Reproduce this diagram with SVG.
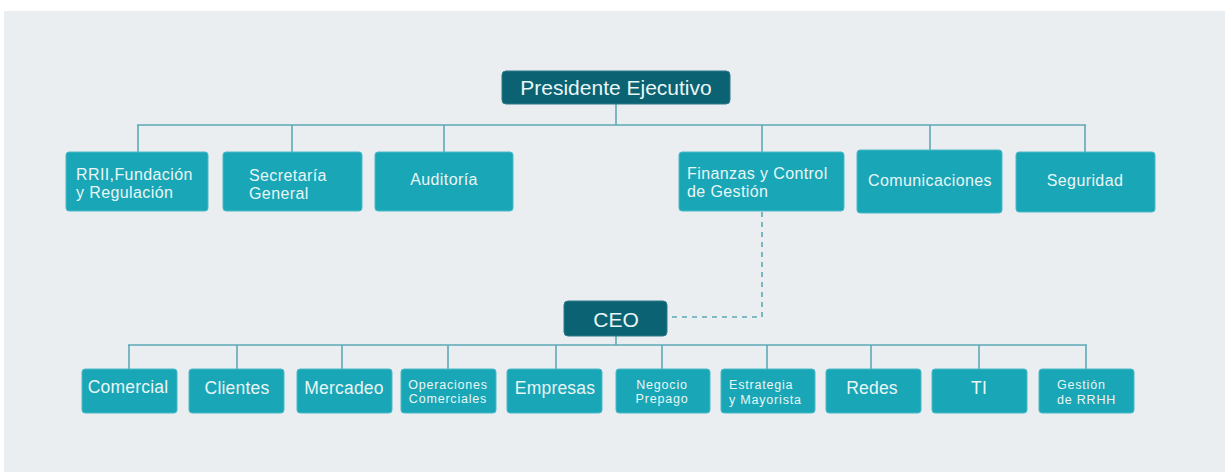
<svg xmlns="http://www.w3.org/2000/svg" width="1225" height="472" viewBox="0 0 1225 472">
  <style>
    .lead { fill: #0b6272; stroke: #2f7b89; stroke-width: 1; }
    .unit { fill: #19a6b6; stroke: #4cbac7; stroke-width: 1; }
    .t { font-family: "Liberation Sans", Arial, sans-serif; fill: #e9f6f7; }
    .t1 { font-size: 21px; }
    .t2 { font-size: 16px; letter-spacing: 0.4px; }
    .t3 { font-size: 17.5px; letter-spacing: 0.2px; }
    .t4 { font-size: 12.5px; letter-spacing: 0.8px; }
    .c { text-anchor: middle; }
    .ln { stroke: #5ea9b4; stroke-width: 1.6; fill: none; }
    .dash { stroke: #5ea9b4; stroke-width: 1.6; fill: none; stroke-dasharray: 5 5; }
  </style>
  <rect x="0" y="0" width="1225" height="472" fill="#ffffff"/>
  <rect x="4" y="11" width="1221" height="461" fill="#ebeef1"/>

  <g id="connectors">
    <!-- Presidente Ejecutivo branch -->
    <line class="ln" x1="616" y1="104" x2="616" y2="125"/>
    <line class="ln" x1="137" y1="125" x2="1086" y2="125"/>
    <line class="ln" x1="138" y1="125" x2="138" y2="152"/>
    <line class="ln" x1="292" y1="125" x2="292" y2="152"/>
    <line class="ln" x1="444" y1="125" x2="444" y2="152"/>
    <line class="ln" x1="762" y1="125" x2="762" y2="152"/>
    <line class="ln" x1="930" y1="125" x2="930" y2="150"/>
    <line class="ln" x1="1085" y1="125" x2="1085" y2="152"/>
    <!-- dotted reporting line Finanzas to CEO -->
    <polyline class="dash" points="762,212 762,317 668,317"/>
    <!-- CEO branch -->
    <line class="ln" x1="616" y1="336" x2="616" y2="345"/>
    <line class="ln" x1="128" y1="345" x2="1087" y2="345"/>
    <line class="ln" x1="129" y1="345" x2="129" y2="369"/>
    <line class="ln" x1="237" y1="345" x2="237" y2="369"/>
    <line class="ln" x1="342" y1="345" x2="342" y2="369"/>
    <line class="ln" x1="448" y1="345" x2="448" y2="369"/>
    <line class="ln" x1="556" y1="345" x2="556" y2="369"/>
    <line class="ln" x1="662" y1="345" x2="662" y2="369"/>
    <line class="ln" x1="767" y1="345" x2="767" y2="369"/>
    <line class="ln" x1="871" y1="345" x2="871" y2="369"/>
    <line class="ln" x1="979" y1="345" x2="979" y2="369"/>
    <line class="ln" x1="1086" y1="345" x2="1086" y2="369"/>
  </g>

  <g id="presidente">
    <rect class="lead" x="502" y="71" width="228" height="33" rx="4"/>
    <text class="t t1 c" x="616" y="95">Presidente Ejecutivo</text>
  </g>

  <g id="rrii">
    <rect class="unit" x="66" y="152" width="142" height="59" rx="3"/>
    <text class="t t2" x="76" y="180">RRII,Fundación</text>
    <text class="t t2" x="76" y="198">y Regulación</text>
  </g>
  <g id="secretaria">
    <rect class="unit" x="223" y="152" width="139" height="59" rx="3"/>
    <text class="t t2" x="249" y="181">Secretaría</text>
    <text class="t t2" x="249" y="199">General</text>
  </g>
  <g id="auditoria">
    <rect class="unit" x="375" y="152" width="138" height="59" rx="3"/>
    <text class="t t2 c" x="444" y="185">Auditoría</text>
  </g>
  <g id="finanzas">
    <rect class="unit" x="679" y="152" width="165" height="59" rx="3"/>
    <text class="t t2" x="687" y="179">Finanzas y Control</text>
    <text class="t t2" x="687" y="197">de Gestión</text>
  </g>
  <g id="comunicaciones">
    <rect class="unit" x="857" y="150" width="145" height="63" rx="3"/>
    <text class="t t2 c" x="930" y="186">Comunicaciones</text>
  </g>
  <g id="seguridad">
    <rect class="unit" x="1016" y="152" width="139" height="60" rx="3"/>
    <text class="t t2 c" x="1085" y="186">Seguridad</text>
  </g>

  <g id="ceo">
    <rect class="lead" x="564" y="301" width="103" height="35" rx="4"/>
    <text class="t t1 c" x="616" y="327">CEO</text>
  </g>

  <g id="comercial">
    <rect class="unit" x="82" y="369" width="95" height="44" rx="3"/>
    <text class="t t3 c" x="128" y="393">Comercial</text>
  </g>
  <g id="clientes">
    <rect class="unit" x="189" y="369" width="95" height="44" rx="3"/>
    <text class="t t3 c" x="237" y="394">Clientes</text>
  </g>
  <g id="mercadeo">
    <rect class="unit" x="297" y="369" width="95" height="44" rx="3"/>
    <text class="t t3 c" x="344" y="394">Mercadeo</text>
  </g>
  <g id="operaciones">
    <rect class="unit" x="401" y="369" width="95" height="44" rx="3"/>
    <text class="t t4 c" x="448" y="389">Operaciones</text>
    <text class="t t4 c" x="448" y="403">Comerciales</text>
  </g>
  <g id="empresas">
    <rect class="unit" x="507" y="369" width="95" height="44" rx="3"/>
    <text class="t t3 c" x="555" y="394">Empresas</text>
  </g>
  <g id="prepago">
    <rect class="unit" x="616" y="369" width="94" height="44" rx="3"/>
    <text class="t t4 c" x="662" y="389">Negocio</text>
    <text class="t t4 c" x="662" y="403">Prepago</text>
  </g>
  <g id="estrategia">
    <rect class="unit" x="721" y="369" width="94" height="44" rx="3"/>
    <text class="t t4" x="729" y="389">Estrategia</text>
    <text class="t t4" x="729" y="404">y Mayorista</text>
  </g>
  <g id="redes">
    <rect class="unit" x="826" y="369" width="95" height="44" rx="3"/>
    <text class="t t3 c" x="872" y="394">Redes</text>
  </g>
  <g id="ti">
    <rect class="unit" x="932" y="369" width="95" height="44" rx="3"/>
    <text class="t t3 c" x="979" y="394">TI</text>
  </g>
  <g id="rrhh">
    <rect class="unit" x="1039" y="369" width="95" height="44" rx="3"/>
    <text class="t t4" x="1057" y="389">Gestión</text>
    <text class="t t4" x="1057" y="404">de RRHH</text>
  </g>
</svg>
